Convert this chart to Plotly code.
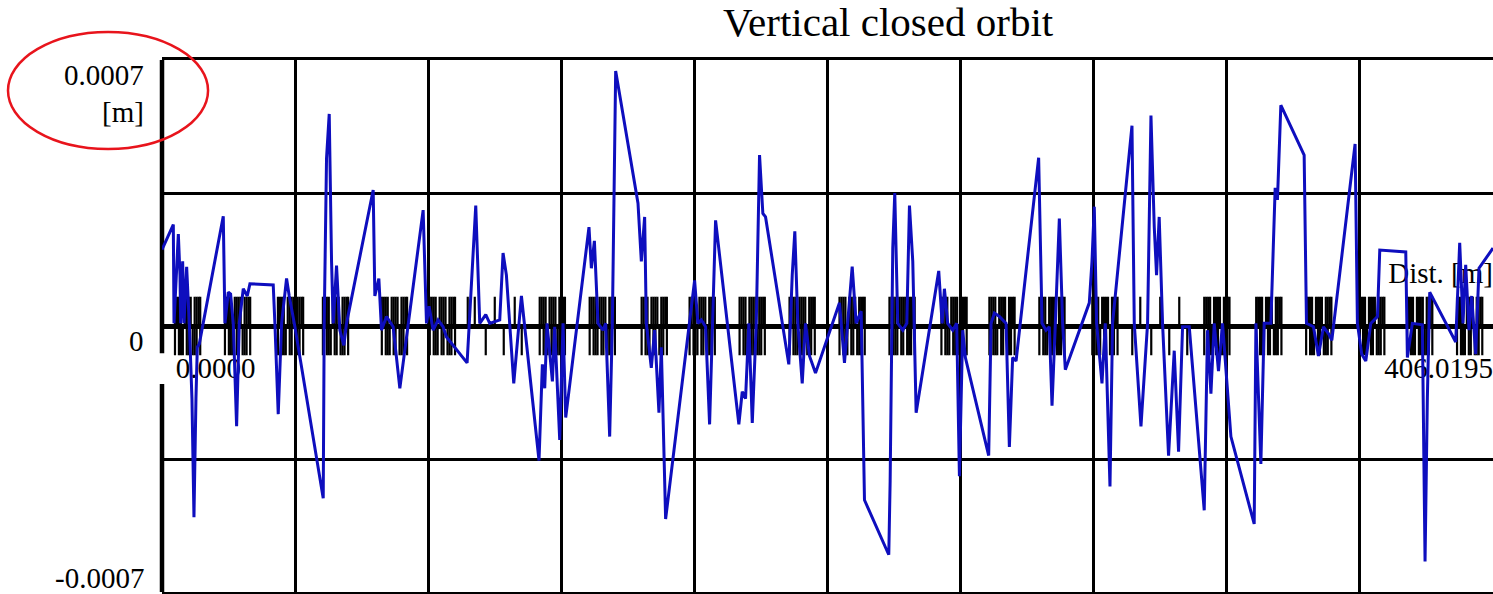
import plotly.graph_objects as go

# ---- closed-orbit samples: longitudinal position [m] and vertical offset [um]
orbit_s = [
    0.00, 3.45, 3.66, 4.98, 5.49, 5.69, 6.30, 6.71, 7.52, 8.33, 9.14, 9.75, 10.36, 10.77, 11.38,
    18.69, 19.20, 20.22, 20.93, 21.74, 22.76, 23.57, 24.79, 26.01, 26.82, 33.93, 34.44, 35.46,
    36.48, 38.00, 38.81, 40.03, 40.54, 49.18, 49.48, 50.19, 51.01, 51.72, 52.23, 53.24, 54.26,
    55.48, 56.29, 64.42, 64.93, 66.15, 66.96, 68.48, 70.51, 72.55, 79.66, 80.68, 81.49, 82.71,
    84.23, 85.75, 86.77, 93.07, 95.71, 96.93, 98.76, 99.98, 103.03, 104.04, 105.06, 107.30,
    109.64, 115.01, 116.03, 116.75, 117.45, 119.09, 119.79, 121.32, 122.33, 123.15, 130.25,
    130.98, 131.90, 133.00, 134.52, 135.34, 136.56, 137.38, 138.08, 138.39, 145.20, 146.22,
    147.23, 147.74, 149.26, 150.28, 151.59, 152.32, 153.63, 162.47, 163.48, 164.51, 165.82,
    167.04, 168.87, 175.97, 177.00, 178.01, 179.02, 180.06, 181.28, 182.28, 183.29, 184.11,
    191.21, 192.25, 193.04, 193.96, 195.30, 196.30, 197.52, 199.35, 206.67, 208.19, 210.54,
    211.76, 213.28, 213.98, 214.29, 221.70, 222.12, 222.92, 223.53, 224.44, 225.97, 227.19,
    228.01, 229.02, 230.05, 236.94, 237.98, 238.67, 239.68, 241.21, 242.42, 243.25, 244.25,
    245.07, 252.18, 252.91, 253.92, 255.44, 257.48, 258.49, 259.49, 260.53, 267.42, 268.46,
    269.67, 270.68, 271.50, 272.51, 273.73, 274.74, 275.56, 282.87, 283.69, 284.39, 285.10,
    286.74, 287.75, 289.18, 289.97, 295.89, 296.59, 298.63, 300.65, 301.68, 302.69, 303.39,
    304.19, 305.22, 307.05, 308.78, 310.10, 311.32, 313.36, 317.93, 318.94, 319.97, 320.98,
    322.28, 323.51, 326.07, 333.17, 333.70, 335.21, 336.22, 338.26, 339.57, 340.27, 341.30,
    348.41, 349.12, 351.25, 352.77, 354.30, 355.82, 356.85, 363.95, 364.66, 365.98, 367.21,
    368.74, 370.77, 371.48, 379.41, 379.90, 381.42, 384.47, 385.29, 385.99, 386.72, 394.64,
    395.86, 396.87, 397.69, 398.70, 399.52, 400.73, 401.75, 406.02,
]
orbit_y_um = [
    201, 267, 7, 242, 134, 7, 170, 7, 156, 7, -191, -503, -191, -56, -47,
    289, 7, 89, 84, 7, -264, 7, 98, 79, 111, 108, 7, -232,
    7, 125, 79, 25, -2, -453, 7, 441, 558, 170, 7, 159, -11,
    -51, 7, 358, 79, 125, -11, 25, -2, -164, 305, 7, 52, -11,
    16, -2, -29, -97, 317, 7, 30, 7, 16, 192, 134, -151,
    79, -354, -101, -164, 7, -146, -2, -300, 7, -241, 260,
    152, 224, 7, -11, 7, -291, 7, 387, 671, 323, 170,
    287, 7, -110, -11, -228, -56, -508, 120, 7, 16, -2,
    -259, 278, -259, -173, -191, 7, -255, 7, 450, 296, 287,
    -101, 134, 249, 7, -151, 7, -79, -124, 61, -97, 156,
    7, 39, -255, -458, -602, -408, 206, 350, 7, -11, 7,
    317, 170, -228, 145, 7, 98, 7, -11, 7, -395, -11,
    -83, -341, 7, 34, 25, 7, -318, -83, -92, 443, 7,
    -11, -2, -210, 7, 283, 7, -115, 61, 170, 314, 7,
    -151, 7, -422, 7, 527, 7, -264, 7, 554, 260, 134,
    287, 7, -341, -65, -331, -2, -2, -485, -11, -178, 7,
    -119, 7, -291, -521, 7, -363, 7, 7, 364, 332, 581,
    450, 7, -2, -79, -2, -20, -38, 479, 7, -74, -92,
    7, 25, 200, 195, -83, 7, 3, -620, -191, 89, -42,
    219, 7, 161, -11, 79, -74, 152, 205,
]

# ---- lattice elements drawn on the axis (arc cells and straight-section quads)
cell_starts = [
    3.96, 19.20, 35.36, 49.08, 67.06, 81.69, 115.22, 130.46, 146.31, 160.94, 176.19, 191.43,
    206.67, 221.91, 237.76, 252.39, 267.63, 283.79, 317.93, 333.78, 349.02, 365.18, 379.81, 395.05,
]
cell_offsets = [0.0, 0.6, 1.2, 1.8, 2.4, 3.0, 3.6, 4.2, 4.8, 5.4, 6.0, 6.6, 7.2, 7.7]
cell_kinds = ["B", "U", "B", "B", "D", "U", "B", "B", "U", "D", "B", "B", "U", "B"]
straight_s = [93.27, 95.41, 98.76, 101.51, 104.25, 107.60, 109.74,
              295.98, 298.42, 301.77, 304.51, 307.26, 310.31, 312.75]
straight_kinds = ["U", "U", "D", "U", "D", "U", "D",
                  "D", "U", "D", "U", "D", "U", "D"]
element_height_um = 77

S_TOTAL = 406.0195
Y_LIM = 0.0007
SERIF = "Liberation Serif"

# element positions/kinds
elem_s, elem_k = [], []
for s0 in cell_starts:
    for off, k in zip(cell_offsets, cell_kinds):
        elem_s.append(s0 + off)
        elem_k.append(k)
elem_s += straight_s
elem_k += straight_kinds

h = element_height_um * 1e-6
ex, ey = [], []
for s, k in zip(elem_s, elem_k):
    lo, hi = {"B": (-h, h), "U": (0, h), "D": (-h, 0)}[k]
    ex += [s, s, None]
    ey += [lo, hi, None]

fig = go.Figure()

fig.add_trace(go.Scatter(x=ex, y=ey, mode="lines",
                         line=dict(color="black", width=2.2), hoverinfo="skip"))

# in-plot labels (drawn beneath the orbit line)
fig.add_trace(go.Scatter(
    x=[4.2], y=[-119e-6], mode="text", text=["0.0000"], textposition="middle right",
    textfont=dict(family=SERIF, size=29, color="black"), cliponaxis=False, hoverinfo="skip"))
fig.add_trace(go.Scatter(
    x=[S_TOTAL], y=[-119e-6], mode="text", text=["406.0195"], textposition="middle left",
    textfont=dict(family=SERIF, size=29, color="black"), cliponaxis=False, hoverinfo="skip"))
fig.add_trace(go.Scatter(
    x=[S_TOTAL], y=[132e-6], mode="text", text=["Dist. [m]"], textposition="middle left",
    textfont=dict(family=SERIF, size=29, color="black"), cliponaxis=False, hoverinfo="skip"))

fig.add_trace(go.Scatter(
    x=orbit_s, y=[v * 1e-6 for v in orbit_y_um], mode="lines",
    line=dict(color="#0e0ebe", width=3), name="y"))

grid_x = [i * S_TOTAL / 10 for i in range(1, 10)]

fig.update_layout(
    width=1493, height=594,
    margin=dict(l=162, r=0, t=60, b=2),
    paper_bgcolor="white", plot_bgcolor="rgba(0,0,0,0)",
    showlegend=False,
    font=dict(family=SERIF, color="black"),
    xaxis=dict(range=[0, S_TOTAL], tickmode="array", tickvals=grid_x,
               showgrid=True, gridcolor="black", gridwidth=2.5,
               showticklabels=False, ticks="", zeroline=False,
               showline=True, mirror=True, linecolor="black", linewidth=2.5,
               layer="below traces"),
    yaxis=dict(range=[-Y_LIM, Y_LIM], tickmode="array", tickvals=[-Y_LIM / 2, Y_LIM / 2],
               showgrid=True, gridcolor="black", gridwidth=2.5,
               showticklabels=False, ticks="",
               zeroline=True, zerolinecolor="black", zerolinewidth=4.5,
               showline=False, layer="below traces"),
)

# left vertical axis, interrupted behind the start-position label
for y0, y1 in [(0, 0.391), (0.449, 1.0)]:
    fig.add_shape(type="line", xref="paper", yref="paper", x0=0, x1=0, y0=y0, y1=y1,
                  line=dict(color="black", width=4.5), layer="below")

# highlighted scale label
fig.add_shape(type="circle", xref="paper", yref="paper",
              x0=-0.1157, x1=0.0346, y0=0.8327, y1=1.0526,
              line=dict(color="#e8141c", width=2.5))

lab_x = -0.012
for txt, yp in [("0.0007", 0.9718), ("[m]", 0.9023), ("0", 0.4718), ("-0.0007", 0.0263)]:
    fig.add_annotation(text=txt, xref="paper", yref="paper", x=lab_x, y=yp,
                       xanchor="right", yanchor="middle", showarrow=False,
                       font=dict(family=SERIF, size=29, color="black"))

fig.add_annotation(text="Vertical closed orbit", xref="paper", yref="paper",
                   x=0.5455, y=1.0714, xanchor="center", yanchor="middle", showarrow=False,
                   font=dict(family=SERIF, size=41, color="black"))

fig.write_html("out.html")
